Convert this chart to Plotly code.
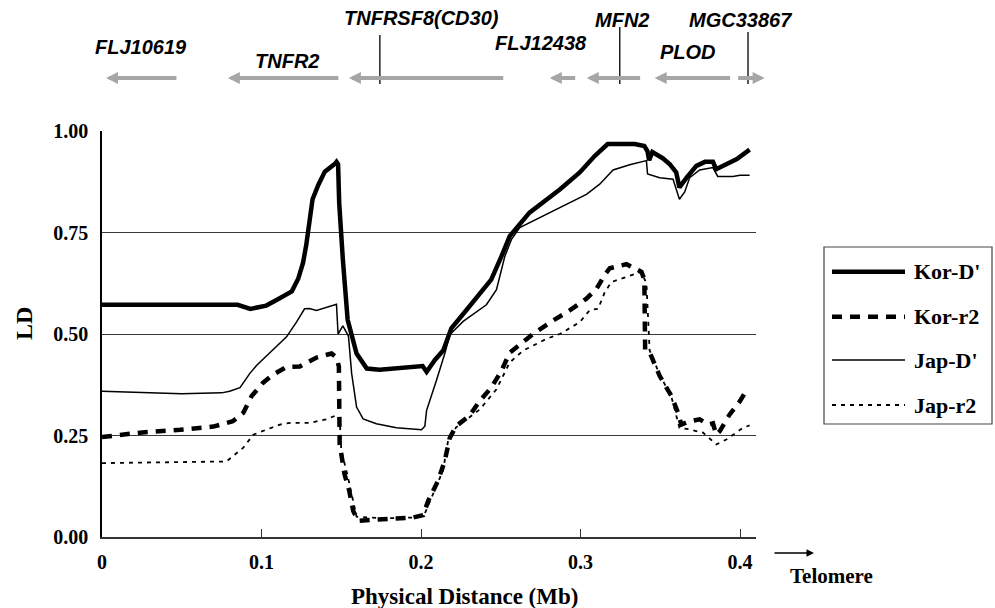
import plotly.graph_objects as go

# ---------------- data (Mb, LD) ----------------
kor_d_x = [0, 0.085, 0.093, 0.103, 0.110, 0.119, 0.123, 0.126, 0.128, 0.130, 0.132, 0.1356, 0.1397,
           0.146, 0.147, 0.148, 0.1487, 0.151, 0.154, 0.1596, 0.166, 0.174, 0.190, 0.201, 0.2035,
           0.2087, 0.214, 0.219, 0.2285, 0.244, 0.2504, 0.2556, 0.268, 0.287, 0.2995, 0.309, 0.317,
           0.334, 0.340, 0.342, 0.343, 0.345, 0.3515, 0.356, 0.360, 0.362, 0.3665, 0.3726, 0.378,
           0.383, 0.385, 0.391, 0.398, 0.406]
kor_d_y = [0.572, 0.572, 0.562, 0.570, 0.585, 0.605, 0.636, 0.675, 0.718, 0.785, 0.832, 0.867, 0.900,
           0.919, 0.924, 0.918, 0.823, 0.683, 0.535, 0.452, 0.415, 0.412, 0.416, 0.421, 0.407,
           0.436, 0.460, 0.514, 0.559, 0.634, 0.691, 0.741, 0.799, 0.856, 0.898, 0.939, 0.968,
           0.968, 0.963, 0.950, 0.928, 0.948, 0.933, 0.918, 0.898, 0.861, 0.885, 0.914, 0.924,
           0.924, 0.906, 0.918, 0.931, 0.954]

jap_d_x = [0, 0.05, 0.075, 0.080, 0.0865, 0.0927, 0.097, 0.107, 0.1157, 0.122, 0.127, 0.130, 0.1345,
           0.147, 0.148, 0.151, 0.1545, 0.1565, 0.1596, 0.1637, 0.172, 0.1846, 0.2003, 0.2024, 0.2035,
           0.2097, 0.2149, 0.218, 0.2264, 0.241, 0.2473, 0.2525, 0.2567, 0.2619, 0.2744, 0.2912,
           0.3037, 0.312, 0.3204, 0.3308, 0.3413, 0.342, 0.3496, 0.358, 0.362, 0.3653, 0.3684,
           0.3747, 0.383, 0.386, 0.3955, 0.400, 0.406]
jap_d_y = [0.359, 0.353, 0.355, 0.359, 0.368, 0.403, 0.423, 0.460, 0.493, 0.530, 0.562, 0.563, 0.558,
           0.573, 0.500, 0.520, 0.495, 0.403, 0.320, 0.291, 0.279, 0.269, 0.264, 0.273, 0.312,
           0.386, 0.452, 0.498, 0.531, 0.572, 0.609, 0.691, 0.733, 0.762, 0.786, 0.819,
           0.844, 0.869, 0.904, 0.917, 0.927, 0.894, 0.885, 0.881, 0.832, 0.850, 0.885,
           0.904, 0.910, 0.888, 0.888, 0.891, 0.891]

kor_r_x = [0, 0.0238, 0.049, 0.0698, 0.082, 0.0886, 0.0938, 0.101, 0.107, 0.1157, 0.124, 0.1345,
           0.1439, 0.147, 0.1485, 0.149, 0.150, 0.152, 0.155, 0.1575, 0.1606, 0.178, 0.195, 0.2013,
           0.2045, 0.2107, 0.2149, 0.218, 0.222, 0.2306, 0.2368, 0.244, 0.2504, 0.2556, 0.2608,
           0.2702, 0.2827, 0.2932, 0.3037, 0.310, 0.3152, 0.3183, 0.3288, 0.3382, 0.3400, 0.3405,
           0.3433, 0.3496, 0.357, 0.3611, 0.3632, 0.3684, 0.3747, 0.380, 0.383, 0.3851, 0.3872,
           0.3935, 0.400, 0.405]
kor_r_y = [0.246, 0.257, 0.264, 0.272, 0.285, 0.306, 0.347, 0.380, 0.399, 0.419, 0.420, 0.442,
           0.452, 0.442, 0.420, 0.229, 0.205, 0.155, 0.114, 0.064, 0.040, 0.043, 0.048, 0.054,
           0.089, 0.139, 0.188, 0.244, 0.273, 0.300, 0.335, 0.368, 0.409, 0.454, 0.470,
           0.500, 0.533, 0.558, 0.587, 0.611, 0.646, 0.662, 0.672, 0.653, 0.635, 0.460,
           0.455, 0.397, 0.347, 0.306, 0.277, 0.285, 0.290, 0.277, 0.280, 0.252, 0.260,
           0.302, 0.335, 0.368]

jap_r_x = [0, 0.078, 0.082, 0.0886, 0.0948, 0.103, 0.1115, 0.118, 0.130, 0.1408, 0.147, 0.149,
           0.150, 0.1537, 0.1565, 0.1596, 0.178, 0.196, 0.2024, 0.2076, 0.2138, 0.217, 0.222,
           0.2368, 0.2473, 0.2556, 0.264, 0.2786, 0.287, 0.2995, 0.3058, 0.311, 0.3152, 0.3194,
           0.3308, 0.338, 0.3413, 0.3433, 0.3496, 0.357, 0.362, 0.3684, 0.3768, 0.3851, 0.3914,
           0.4018, 0.406]
jap_r_y = [0.182, 0.186, 0.199, 0.220, 0.252, 0.264, 0.277, 0.281, 0.281, 0.290, 0.300, 0.290,
           0.213, 0.156, 0.107, 0.050, 0.046, 0.048, 0.058, 0.108, 0.164, 0.238, 0.270,
           0.314, 0.364, 0.430, 0.459, 0.488, 0.500, 0.529, 0.559, 0.562, 0.603, 0.628,
           0.644, 0.653, 0.625, 0.460, 0.400, 0.345, 0.269, 0.265, 0.257, 0.228, 0.240,
           0.269, 0.275]

series_names = ["Kor-D'", "Kor-r2", "Jap-D'", "Jap-r2"]

x_tick_vals = [0, 0.1, 0.2, 0.3, 0.4]
x_tick_text = ["0", "0.1", "0.2", "0.3", "0.4"]
y_tick_vals = [0.0, 0.25, 0.5, 0.75, 1.0]
X_RANGE = [0, 0.41]
Y_RANGE = [0, 1.0]

# genes: name, arrow tip and tail in Mb, label center in Mb
gene_names = ["FLJ10619", "TNFR2", "TNFRSF8(CD30)", "FLJ12438", "MFN2", "PLOD", "MGC33867"]
gene_tip = [0.0025, 0.0789, 0.1548, 0.2807, 0.3039, 0.3465, 0.4154]
gene_tail = [0.0476, 0.1491, 0.2525, 0.2976, 0.3383, 0.3947, 0.3979]
gene_label_x = [0.0245, 0.1159, 0.2005, 0.2751, 0.3258, 0.3672, 0.4004]
gene_label_row = [47, 61, 18, 43, 20, 52, 20]   # px from top
marker_ticks = [0.1742, 0.3246, 0.4050]
marker_top = [35, 27, 32]

# ---------------- figure ----------------
W, H = 995, 608
L, R, T, B = 102, 239, 131, 71
PW, PH = W - L - R, H - T - B


def mb_to_paper(v):
    return (v - X_RANGE[0]) / (X_RANGE[1] - X_RANGE[0])


def py_to_paper(py):
    return (H - B - py) / PH


def px_to_paper(px):
    return (px - L) / PW


styles = [
    dict(color="black", width=4.5, dash="solid"),
    dict(color="black", width=4.5, dash="10px,8px"),
    dict(color="black", width=1.5, dash="solid"),
    dict(color="black", width=1.8, dash="4px,5px"),
]
xs = [kor_d_x, kor_r_x, jap_d_x, jap_r_x]
ys = [kor_d_y, kor_r_y, jap_d_y, jap_r_y]
order = [3, 2, 1, 0]

fig = go.Figure()
for i in order:
    fig.add_trace(go.Scatter(x=xs[i], y=ys[i], mode="lines", name=series_names[i],
                             line=styles[i], showlegend=False, hoverinfo="skip"))

serif = "Liberation Serif, Times New Roman, serif"
sans = "Liberation Sans, Arial, sans-serif"

shapes = []
annotations = []

# custom legend
lx0, lx1 = px_to_paper(824), px_to_paper(992)
ly0, ly1 = py_to_paper(424), py_to_paper(247)
shapes.append(dict(type="rect", xref="paper", yref="paper", x0=lx0, x1=lx1, y0=ly0, y1=ly1,
                   line=dict(color="#444", width=1.2), fillcolor="white"))
legend_rows = [271.7, 316.7, 360, 405]
for i, row in enumerate(legend_rows):
    yy = py_to_paper(row)
    shapes.append(dict(type="line", xref="paper", yref="paper",
                       x0=px_to_paper(832), x1=px_to_paper(905), y0=yy, y1=yy, line=styles[i]))
    annotations.append(dict(xref="paper", yref="paper", x=px_to_paper(912), y=yy,
                            text=series_names[i], showarrow=False, xanchor="left", yanchor="middle",
                            font=dict(family=serif, size=22, color="black", weight="bold")))

# gene arrows and labels
arrow_y = py_to_paper(78)
for name, tip, tail, lx, row in zip(gene_names, gene_tip, gene_tail, gene_label_x, gene_label_row):
    annotations.append(dict(xref="paper", yref="paper", x=mb_to_paper(tip), y=arrow_y,
                            ax=(tail - tip) / (X_RANGE[1] - X_RANGE[0]) * PW, ay=0,
                            text="", showarrow=True, arrowhead=2, arrowsize=0.6,
                            arrowwidth=4, arrowcolor="#a6a6a6", standoff=0))
    annotations.append(dict(xref="paper", yref="paper", x=mb_to_paper(lx), y=py_to_paper(row),
                            text=name, showarrow=False, xanchor="center", yanchor="middle",
                            font=dict(family=sans, size=20, color="black", weight="bold",
                                      style="italic")))
for mx, top in zip(marker_ticks, marker_top):
    shapes.append(dict(type="line", xref="paper", yref="paper", x0=mb_to_paper(mx), x1=mb_to_paper(mx),
                       y0=py_to_paper(top), y1=py_to_paper(84), line=dict(color="black", width=1.3)))

# axis titles and telomere arrow
annotations.append(dict(xref="paper", yref="paper", x=px_to_paper(464), y=py_to_paper(596),
                        text="Physical Distance (Mb)", showarrow=False, xanchor="center", yanchor="middle",
                        font=dict(family=serif, size=23, color="black", weight="bold")))
annotations.append(dict(xref="paper", yref="paper", x=px_to_paper(24), y=py_to_paper(324),
                        text="LD", showarrow=False, textangle=-90, xanchor="center", yanchor="middle",
                        font=dict(family=serif, size=24, color="black", weight="bold")))
annotations.append(dict(xref="paper", yref="paper", x=px_to_paper(831), y=py_to_paper(576),
                        text="Telomere", showarrow=False, xanchor="center", yanchor="middle",
                        font=dict(family=serif, size=21, color="black", weight="bold")))
annotations.append(dict(xref="paper", yref="paper", x=px_to_paper(814), y=py_to_paper(553),
                        ax=-41, ay=0, text="", showarrow=True, arrowhead=2, arrowsize=1,
                        arrowwidth=1.5, arrowcolor="black", standoff=0))

fig.update_layout(
    width=W, height=H,
    margin=dict(l=L, r=R, t=T, b=B, pad=0),
    paper_bgcolor="white", plot_bgcolor="white",
    showlegend=False,
    shapes=shapes, annotations=annotations,
    xaxis=dict(range=X_RANGE, tickvals=x_tick_vals, ticktext=x_tick_text, showgrid=False,
               zeroline=False, showline=True, linecolor="#333", linewidth=1.5,
               ticks="inside", ticklen=8, tickwidth=1, tickcolor="#333",
               ticklabelstandoff=6,
               tickfont=dict(family=serif, size=20, color="black", weight="bold")),
    yaxis=dict(range=Y_RANGE, tickvals=y_tick_vals, tickformat=".2f", showgrid=True,
               gridcolor="#3a3a3a", gridwidth=1, zeroline=False, showline=True,
               linecolor="black", linewidth=1.5, ticks="", ticklabelstandoff=8,
               tickfont=dict(family=serif, size=20, color="black", weight="bold")),
)

fig.write_html("out.html", config={"displayModeBar": False},
               post_script="document.body.style.margin='0';document.body.style.overflow='hidden';")
